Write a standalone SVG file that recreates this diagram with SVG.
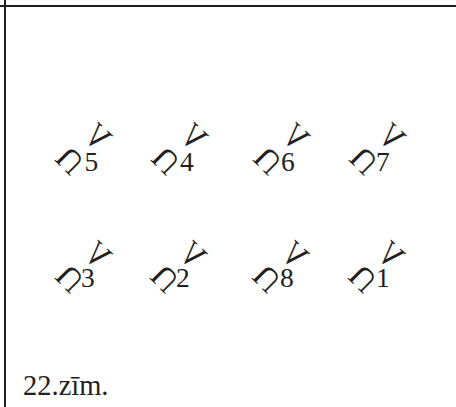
<svg xmlns="http://www.w3.org/2000/svg" width="456" height="407" viewBox="0 0 456 407">
<style>
text{font-family:"Liberation Serif",serif;fill:#231f20}
.n{font-size:27.5px}
.c{font-size:28.500px}
.v{font-size:35px;text-anchor:middle}
.u{font-size:33px;text-anchor:middle}
line{stroke:#231f20;stroke-width:2}
</style>
<defs>
<g id="sym">
<text class="v" transform="translate(90 145.500) rotate(43) scale(-0.85 1)">V</text>
<text class="u" transform="translate(77.500 153) rotate(225) scale(-1 1)">U</text>
</g>
</defs>
<g id="frame"><line x1="0" y1="6" x2="456" y2="6"/><line x1="5" y1="0" x2="5" y2="407"/></g>
<g id="node-5"><use href="#sym"/><text class="n" x="84.500" y="171">5</text></g>
<g id="node-4"><use href="#sym" x="96"/><text class="n" x="180" y="171">4</text></g>
<g id="node-6"><use href="#sym" x="198"/><text class="n" x="281" y="171">6</text></g>
<g id="node-7"><use href="#sym" x="294"/><text class="n" x="376" y="171">7</text></g>
<g id="node-3"><use href="#sym" y="118"/><text class="n" x="81" y="287">3</text></g>
<g id="node-2"><use href="#sym" x="95" y="118"/><text class="n" x="176" y="287">2</text></g>
<g id="node-8"><use href="#sym" x="197" y="118"/><text class="n" x="280" y="287">8</text></g>
<g id="node-1"><use href="#sym" x="293" y="118"/><text class="n" x="376" y="287">1</text></g>
<text id="caption" class="c" x="23" y="395">22.zīm.</text>
</svg>
